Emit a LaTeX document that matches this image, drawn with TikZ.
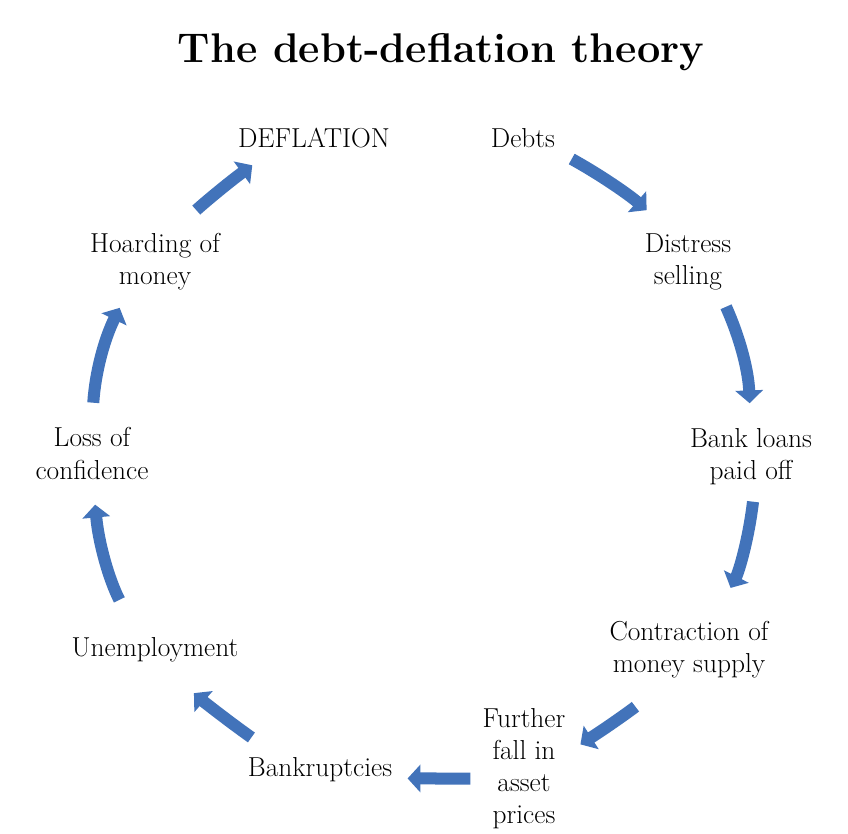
\documentclass[tikz,border=0pt]{standalone}
\usetikzlibrary{arrows.meta}
\definecolor{arrowblue}{RGB}{66,115,186}
\begin{document}
\begin{tikzpicture}[
  x=0.025cm, y=-0.025cm,
  stage/.style={align=center, inner sep=0pt, font=\fontsize{19.5}{22.8}\selectfont},
  flow/.style={arrowblue, line width=0.3cm, -{Triangle[width=0.68cm, length=0.32cm]}}
]
  \useasboundingbox[fill=white] (0,0) rectangle (848,834);
  \node[anchor=base, font=\fontsize{29.5}{34}\selectfont\bfseries] (title) at (441,63) {The debt-deflation theory};

  \node[stage] (deflation) at (314,138) {DEFLATION};
  \node[stage] (debts) at (523,138) {Debts};
  \node[stage] (distress) at (688,261.5) {Distress\\selling};
  \node[stage] (bankloans) at (751,456.5) {Bank loans\\paid off};
  \node[stage] (contraction) at (689,649.5) {Contraction of\\money supply};
  \node[stage] (furtherfall) at (524,769) {Further\\fall in\\asset\\prices};
  \node[stage] (bankruptcies) at (320,769.5) {Bankruptcies};
  \node[stage] (unemployment) at (155,649.5) {Unemployment};
  \node[stage] (confidence) at (92,453.5) {Loss of\\confidence};
  \node[stage] (hoarding) at (155,261.5) {Hoarding of\\money};

  \draw[flow, shorten <=0.57cm, shorten >=0.87cm] (debts.341) to[bend left=6] (distress.118);
  \draw[flow, shorten <=0.46cm, shorten >=0.62cm] (distress.317) to[bend left=11] (bankloans.91);
  \draw[flow, shorten <=0.42cm, shorten >=0.92cm] (bankloans.278) to[bend left=10] (contraction.49);
  \draw[flow, shorten <=1.14cm, shorten >=0.44cm] (contraction.238) to[bend left=3] (furtherfall.20);
  \draw[flow, shorten <=0.30cm, shorten >=0.38cm] (furtherfall.193) -- (bankruptcies.353);
  \draw[flow, shorten <=0.85cm, shorten >=1.18cm] (bankruptcies.163) to[bend left=3] (unemployment.285);
  \draw[flow, shorten <=1.04cm, shorten >=0.63cm] (unemployment.143) to[bend left=11] (confidence.272);
  \draw[flow, shorten <=0.62cm, shorten >=0.49cm] (confidence.91) to[bend left=11] (hoarding.227);
  \draw[flow, shorten <=0.85cm, shorten >=0.73cm] (hoarding.61) to[bend left=3] (deflation.195);
\end{tikzpicture}
\end{document}
